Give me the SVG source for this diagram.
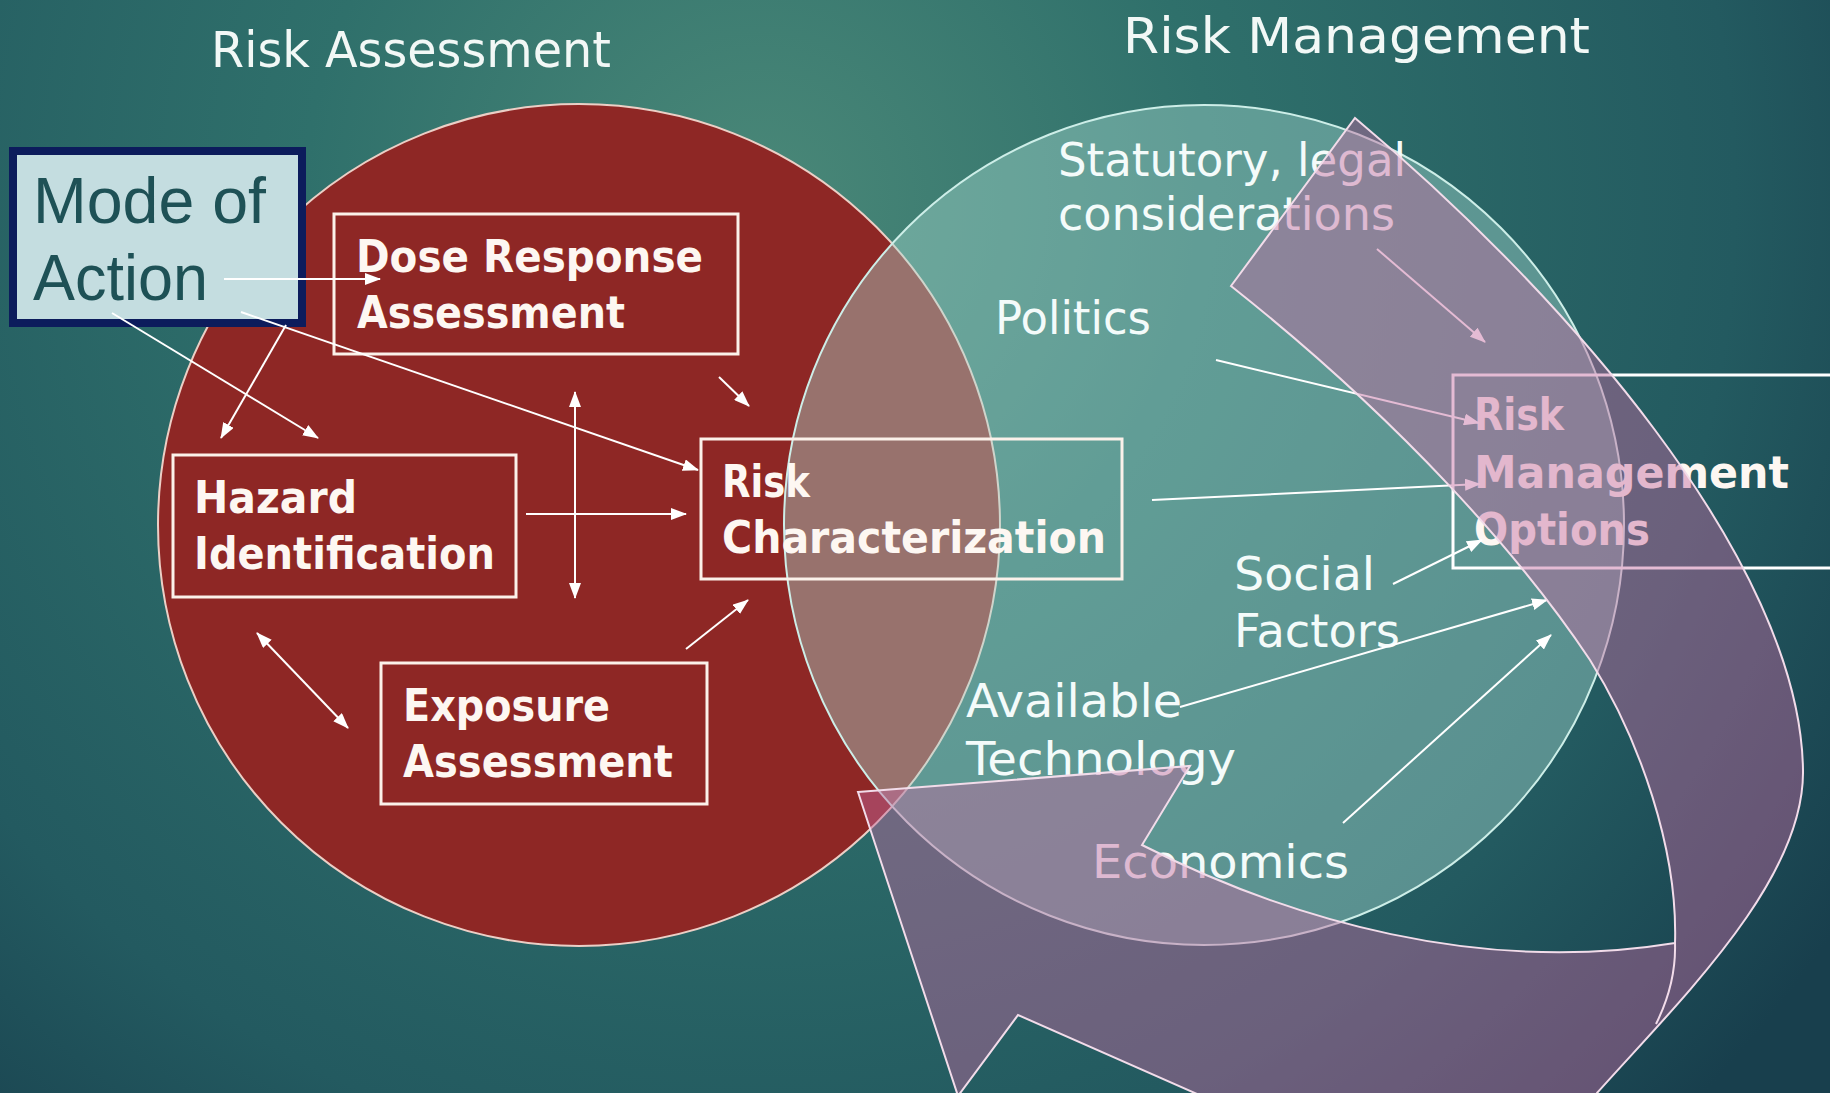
<svg xmlns="http://www.w3.org/2000/svg" width="1830" height="1093" viewBox="0 0 1830 1093">
  <defs>
    <radialGradient id="bg" cx="760" cy="200" r="1300" gradientUnits="userSpaceOnUse">
      <stop offset="0" stop-color="#4a8878"/>
      <stop offset="0.35" stop-color="#2f706b"/>
      <stop offset="0.75" stop-color="#235a60"/>
      <stop offset="1" stop-color="#183f4d"/>
    </radialGradient>
    <marker id="ah" viewBox="0 0 16 12" refX="15" refY="6" markerWidth="16" markerHeight="12" markerUnits="userSpaceOnUse" orient="auto-start-reverse">
      <path d="M0,0 L16,6 L0,12 Z" fill="#ffffff"/>
    </marker>
    <style>
      .box { fill: none; stroke: #fbf1ea; stroke-width: 3; }
      .bt { font-family: "DejaVu Sans", "Liberation Sans", sans-serif; font-weight: bold; font-size: 45px; fill: #fdf7f2; }
      .lt { font-family: "DejaVu Sans", "Liberation Sans", sans-serif; font-size: 46px; fill: #f4fbfa; }
      .title { font-family: "DejaVu Sans", "Liberation Sans", sans-serif; font-size: 50px; fill: #f2f8f6; }
      .conn line { stroke: #ffffff; stroke-width: 2; }
      .arr { marker-end: url(#ah); }
      .dbl { marker-start: url(#ah); marker-end: url(#ah); }
    </style>
  </defs>

  <rect x="0" y="0" width="1830" height="1093" fill="url(#bg)"/>

  <g id="titles">
    <text class="title" x="211" y="67" textLength="400" lengthAdjust="spacingAndGlyphs">Risk Assessment</text>
    <text class="title" x="1123" y="53" textLength="467" lengthAdjust="spacingAndGlyphs">Risk Management</text>
  </g>

  <g id="risk-assessment-circle">
    <circle cx="579" cy="525" r="421" fill="#8e2725" stroke="#eccfc6" stroke-width="2"/>
  </g>
  <g id="risk-management-circle">
    <circle cx="1204" cy="525" r="420" fill="#a8dcd2" fill-opacity="0.42" stroke="#cdeee8" stroke-width="2"/>
  </g>

  <g id="mode-of-action">
    <rect x="13" y="151" width="289" height="172" fill="#c4dde0" stroke="#0c1c5c" stroke-width="8"/>
    <text x="33" y="223" font-family="'Liberation Sans', Arial, sans-serif" font-size="64" fill="#1e5156" textLength="233" lengthAdjust="spacingAndGlyphs">Mode of</text>
    <text x="33" y="300" font-family="'Liberation Sans', Arial, sans-serif" font-size="64" fill="#1e5156" textLength="175" lengthAdjust="spacingAndGlyphs">Action</text>
  </g>

  <g id="dose-response">
    <rect class="box" x="334" y="214" width="404" height="140"/>
    <text class="bt" x="356" y="272" textLength="347" lengthAdjust="spacingAndGlyphs">Dose Response</text>
    <text class="bt" x="357" y="328" textLength="268" lengthAdjust="spacingAndGlyphs">Assessment</text>
  </g>

  <g id="hazard-identification">
    <rect class="box" x="173" y="455" width="343" height="142"/>
    <text class="bt" x="194" y="513" textLength="163" lengthAdjust="spacingAndGlyphs">Hazard</text>
    <text class="bt" x="194" y="569" textLength="301" lengthAdjust="spacingAndGlyphs">Identification</text>
  </g>

  <g id="exposure-assessment">
    <rect class="box" x="381" y="663" width="326" height="141"/>
    <text class="bt" x="403" y="721" textLength="207" lengthAdjust="spacingAndGlyphs">Exposure</text>
    <text class="bt" x="403" y="777" textLength="270" lengthAdjust="spacingAndGlyphs">Assessment</text>
  </g>

  <g id="risk-characterization">
    <rect class="box" x="701" y="439" width="421" height="140"/>
    <text class="bt" x="722" y="497" textLength="88" lengthAdjust="spacingAndGlyphs">Risk</text>
    <text class="bt" x="722" y="553" textLength="384" lengthAdjust="spacingAndGlyphs">Characterization</text>
  </g>

  <g id="statutory">
    <text class="lt" x="1058" y="176" textLength="348" lengthAdjust="spacingAndGlyphs">Statutory, legal</text>
    <text class="lt" x="1058" y="230" textLength="337" lengthAdjust="spacingAndGlyphs">considerations</text>
  </g>
  <g id="politics">
    <text class="lt" x="995" y="334" textLength="156" lengthAdjust="spacingAndGlyphs">Politics</text>
  </g>
  <g id="social-factors">
    <text class="lt" x="1234" y="590" textLength="141" lengthAdjust="spacingAndGlyphs">Social</text>
    <text class="lt" x="1234" y="647" textLength="166" lengthAdjust="spacingAndGlyphs">Factors</text>
  </g>
  <g id="available-technology">
    <text class="lt" x="966" y="717" textLength="216" lengthAdjust="spacingAndGlyphs">Available</text>
    <text class="lt" x="966" y="775" textLength="270" lengthAdjust="spacingAndGlyphs">Technology</text>
  </g>
  <g id="economics">
    <text class="lt" x="1092" y="878" textLength="257" lengthAdjust="spacingAndGlyphs">Economics</text>
  </g>

  <g id="risk-management-options">
    <rect x="1453" y="375" width="400" height="193" fill="none" stroke="#ffffff" stroke-width="3"/>
    <text class="bt" x="1474" y="430" textLength="90" lengthAdjust="spacingAndGlyphs">Risk</text>
    <text class="bt" x="1474" y="488" textLength="315" lengthAdjust="spacingAndGlyphs">Management</text>
    <text class="bt" x="1474" y="545" textLength="176" lengthAdjust="spacingAndGlyphs">Options</text>
  </g>

  <g id="connectors" class="conn">
    <line class="arr" x1="224" y1="279" x2="380" y2="279"/>
    <line class="arr" x1="112" y1="313" x2="318" y2="438"/>
    <line class="arr" x1="286" y1="325" x2="221" y2="438"/>
    <line class="arr" x1="241" y1="312" x2="698" y2="470"/>
    <line class="dbl" x1="575" y1="392" x2="575" y2="598"/>
    <line class="arr" x1="526" y1="514" x2="686" y2="514"/>
    <line class="arr" x1="719" y1="377" x2="749" y2="406"/>
    <line class="arr" x1="686" y1="649" x2="748" y2="600"/>
    <line class="dbl" x1="257" y1="633" x2="348" y2="728"/>
    <line class="arr" x1="1377" y1="249" x2="1485" y2="342"/>
    <line class="arr" x1="1216" y1="360" x2="1479" y2="423"/>
    <line class="arr" x1="1152" y1="500" x2="1480" y2="484"/>
    <line class="arr" x1="1393" y1="584" x2="1482" y2="540"/>
    <line class="arr" x1="1180" y1="707" x2="1547" y2="600"/>
    <line class="arr" x1="1343" y1="823" x2="1551" y2="635"/>
  </g>

  <g id="cycle-arrow">
    <path d="M858,792 L1190,766 L1142,845 C1290,920 1480,975 1675,943 C1678,850 1640,740 1590,660 C1520,555 1400,420 1231,286 L1355,118 C1560,290 1800,560 1803,770 C1805,880 1680,1000 1597,1093 L1570,1135 L1290,1135 L1018,1015 L958,1096 Z" fill="#c4689f" fill-opacity="0.45" stroke="#f2dcea" stroke-width="2" stroke-linejoin="miter"/>
    <path d="M1675,943 C1676,975 1668,1000 1656,1024" fill="none" stroke="#f2dcea" stroke-width="2"/>
  </g>
</svg>
